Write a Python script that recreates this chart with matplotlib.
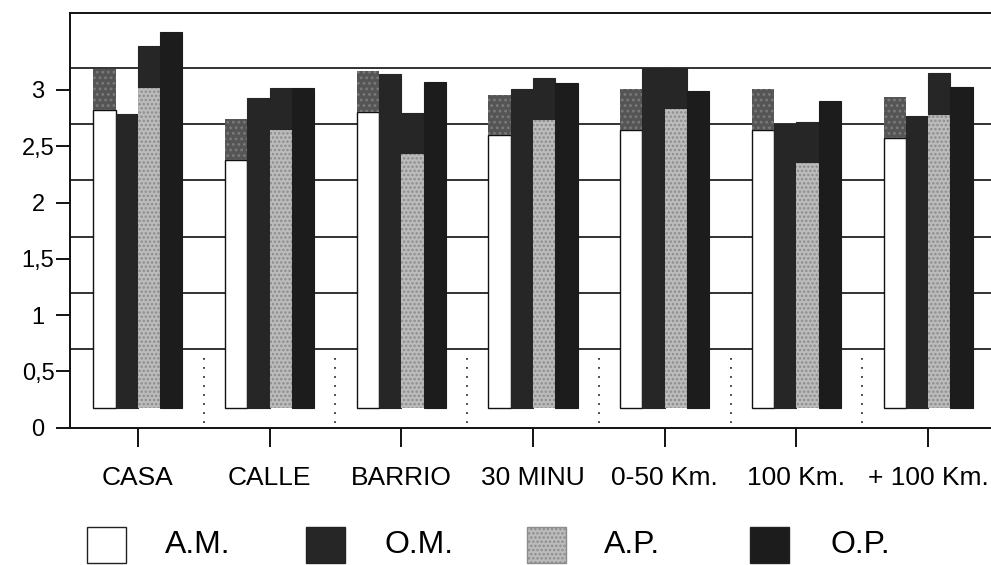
import numpy as np
import matplotlib
matplotlib.use("Agg")
import matplotlib.pyplot as plt
from matplotlib.patches import Rectangle
from matplotlib import font_manager as fm

# ---------------- data ----------------
categories = ["CASA", "CALLE", "BARRIO", "30 MINU", "0-50 Km.", "100 Km.", "+ 100 Km."]
series = ["A.M.", "O.M.", "A.P.", "O.P."]
am = [3.19, 2.74, 3.17, 2.96, 3.01, 3.01, 2.94]
om = [2.79, 2.93, 3.14, 3.01, 3.20, 2.70, 2.77]
ap = [3.39, 3.02, 2.80, 3.11, 3.20, 2.72, 3.15]
op = [3.52, 3.02, 3.07, 3.06, 2.99, 2.90, 3.03]
ytick_values = [0, 0.5, 1, 1.5, 2, 2.5, 3]
ytick_labels = ["0", "0,5", "1", "1,5", "2", "2,5", "3"]

# ---------------- style ----------------
W, H, DPI = 991, 565, 100
base = 0.173        # floor of the 3-D columns
cap = 0.364         # visible depth of the column tops
wall = 0.196        # back-wall offset of the gridlines
bw = 0.169

names = {f.name for f in fm.fontManager.ttflist}
narrow = "Liberation Sans Narrow" in names
main_font = ["Liberation Sans", "DejaVu Sans"]
leg_font = ["Liberation Sans Narrow", "Liberation Sans"] if narrow else main_font
leg_size = 27 if narrow else 23
plt.rcParams["font.family"] = main_font
plt.rcParams["hatch.linewidth"] = 1.2

fig = plt.figure(figsize=(W / DPI, H / DPI), dpi=DPI)
x0, x1, y0, y1 = 70, 994, 427.5, 13
ax = fig.add_axes([x0 / W, (H - y0) / H, (x1 - x0) / W, (y0 - y1) / H])

x = np.arange(len(categories))
offs = (np.arange(4) - 1.5) * bw

# back-wall gridlines
for v in ytick_values[1:]:
    ax.axhline(v + wall, color="#222222", lw=1.3, zorder=1)
# dotted category separators on the floor
ax.vlines(x[:-1] + 0.5, 0.04, 0.63, colors="#333333", linestyles=(0, (1, 4)), lw=1.3, zorder=1)

dark_om = "#262626"
dark_op = "#1c1c1c"
light_ap = "#bcbcbc"
cap_am = "#555555"

am_a = np.array(am); om_a = np.array(om); ap_a = np.array(ap); op_a = np.array(op)

# A.M.: white front face + grey speckled top
ax.bar(x + offs[0], am_a - cap - base, bw, bottom=base, color="white", edgecolor="#111111", lw=1.0, zorder=3)
ax.bar(x + offs[0], cap, bw, bottom=am_a - cap, facecolor=cap_am, edgecolor="#7a7a7a",
       hatch="...", lw=0, zorder=3)
# O.M.
ax.bar(x + offs[1], om_a - base, bw, bottom=base, color=dark_om, edgecolor=dark_om, lw=0.8, zorder=3)
# A.P.: light speckled front face + dark top
ax.bar(x + offs[2], ap_a - cap - base, bw, bottom=base, facecolor=light_ap, edgecolor="#8c8c8c",
       hatch="....", lw=0, zorder=3)
ax.bar(x + offs[2], cap, bw, bottom=ap_a - cap, color=dark_om, edgecolor=dark_om, lw=0.8, zorder=3)
# O.P.
ax.bar(x + offs[3], op_a - base, bw, bottom=base, color=dark_op, edgecolor=dark_op, lw=0.8, zorder=3)

ax.set_xlim(-0.5 + (x0 - 72) / 131.7, 6.5)
ax.set_ylim(0, (y0 - y1) / 112.5)

for s in ["left", "top", "bottom"]:
    ax.spines[s].set_color("#111111")
    ax.spines[s].set_linewidth(1.4)
ax.spines["right"].set_visible(False)

ax.set_yticks(ytick_values)
ax.set_yticklabels(ytick_labels, fontsize=17)
ax.tick_params(axis="y", direction="out", length=10, width=1.3, pad=13)
for lbl in ax.get_yticklabels():
    lbl.set_horizontalalignment("center")

ax.set_xticks(x)
ax.set_xticklabels(categories, fontsize=19)
ax.tick_params(axis="x", direction="out", length=14, width=1.3, pad=14)

# legend
box_x = [87, 306, 527, 750]
txt_x = [165, 385, 604, 830]
faces = ["white", dark_om, light_ap, dark_op]
hatches = [None, None, "....", None]
for bx, tx, fc, ht, lab in zip(box_x, txt_x, faces, hatches, series):
    fig.patches.append(Rectangle((bx / W, (H - 563) / H), 39 / W, 36 / H,
                                 transform=fig.transFigure, facecolor=fc,
                                 edgecolor="#222222" if ht is None else "#8c8c8c",
                                 hatch=ht, lw=1.0))
    fig.text(tx / W, (H - 545) / H, lab, fontsize=leg_size, family=leg_font,
             ha="left", va="center")

fig.savefig("out.png", dpi=DPI, facecolor="white")
